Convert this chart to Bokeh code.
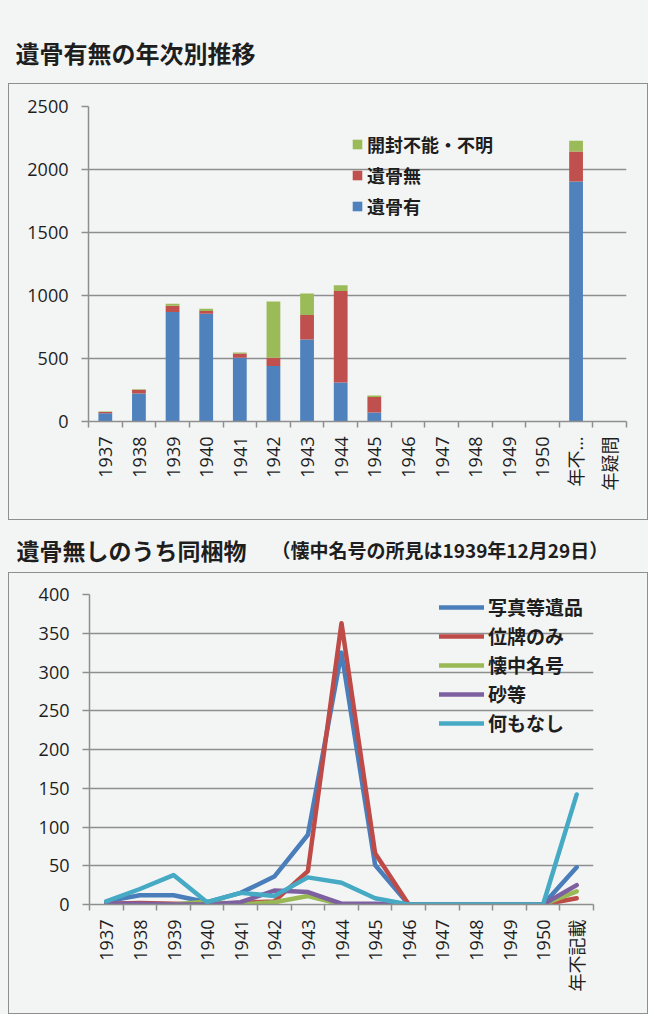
import math
from bokeh.plotting import figure
from bokeh.models import ColumnDataSource, Range1d, FixedTicker, Legend, LegendItem, Spacer
from bokeh.layouts import column, row
from bokeh.embed import file_html
from bokeh.resources import INLINE
from bokeh.core.properties import value

# ---------------- data ----------------
title1 = "遺骨有無の年次別推移"
title2 = "遺骨無しのうち同梱物"
subtitle2 = "（懐中名号の所見は1939年12月29日）"

years1 = ["1937", "1938", "1939", "1940", "1941", "1942", "1943", "1944",
          "1945", "1946", "1947", "1948", "1949", "1950", "年不…", "年疑問"]
bones_yes = [65, 222, 870, 855, 505, 440, 650, 310, 72, 0, 0, 0, 0, 0, 1905, 0]
bones_no = [10, 30, 48, 22, 35, 65, 195, 725, 123, 0, 0, 0, 0, 0, 238, 0]
unopened = [5, 3, 17, 18, 8, 447, 170, 47, 12, 0, 0, 0, 0, 0, 85, 0]
stack_names = ["遺骨有", "遺骨無", "開封不能・不明"]
stack_colors = ["#4F81BD", "#C0504D", "#9BBB59"]
y1_ticks = [0, 500, 1000, 1500, 2000, 2500]

years2 = ["1937", "1938", "1939", "1940", "1941", "1942", "1943", "1944",
          "1945", "1946", "1947", "1948", "1949", "1950", "年不記載"]
photo_items = [4, 12, 12, 3, 15, 36, 90, 325, 51, 0, 0, 0, 0, 0, 48]
ihai_only = [1, 2, 1, 0, 2, 4, 43, 363, 66, 0, 0, 0, 0, 0, 8]
kaichu_myogo = [0, 0, 0, 4, 0, 3, 11, 0, 0, 0, 0, 0, 0, 0, 17]
sand_etc = [1, 1, 0, 0, 3, 18, 16, 1, 1, 0, 0, 0, 0, 0, 25]
nothing = [4, 20, 38, 3, 15, 11, 35, 28, 8, 0, 0, 0, 0, 0, 142]
line_names = ["写真等遺品", "位牌のみ", "懐中名号", "砂等", "何もなし"]
line_colors = ["#4A7EBB", "#BE4B48", "#98B954", "#7D60A0", "#46AAC5"]
y2_ticks = [0, 50, 100, 150, 200, 250, 300, 350, 400]

# ---------------- styles ----------------
PAPER = "#f3f5f5"
GRID = "#8e8e8e"
INK = "#1e1e1e"
LABEL_FONT = "'Open Sans', 'Noto Sans CJK JP'"
CJK_FONT = "Noto Sans CJK JP"
BOX = {"border": "1px solid #8f8f8f"}


def title_fig(h, items):
    t = figure(width=640, height=h, x_range=Range1d(0, 640), y_range=Range1d(0, h),
               x_axis_type=None, y_axis_type=None, toolbar_location=None,
               output_backend="svg", min_border=0, outline_line_color=None,
               background_fill_color=PAPER, border_fill_color=PAPER)
    t.frame_align = False
    for (tx, ty, txt, size) in items:
        t.text(x=[tx], y=[ty], text=[txt], text_font=value(CJK_FONT),
               text_font_size=size, text_font_style="bold", text_color=INK,
               text_baseline="middle", text_align="left")
    return t


def style_axes(p, labels, yticks):
    n = len(labels)
    centers = [i + 0.5 for i in range(n)]
    bounds = [float(i) for i in range(n + 1)]
    xax = p.xaxis[0]
    xax.ticker = FixedTicker(ticks=centers, minor_ticks=bounds)
    xax.major_label_overrides = {c: lab for c, lab in zip(centers, labels)}
    xax.major_label_orientation = math.pi / 2
    xax.major_tick_out = 0
    xax.major_tick_in = 0
    xax.minor_tick_out = 6
    xax.minor_tick_in = 0
    xax.minor_tick_line_color = GRID
    xax.minor_tick_line_width = 1.5
    xax.axis_line_color = GRID
    xax.axis_line_width = 1.5
    xax.major_label_standoff = 9
    xax.major_label_text_font = LABEL_FONT
    xax.major_label_text_font_size = "18px"
    xax.major_label_text_color = INK

    yax = p.yaxis[0]
    yax.ticker = FixedTicker(ticks=yticks)
    yax.major_tick_out = 7
    yax.major_tick_in = 0
    yax.minor_tick_out = 0
    yax.minor_tick_in = 0
    yax.major_tick_line_color = GRID
    yax.major_tick_line_width = 1.5
    yax.axis_line_color = GRID
    yax.axis_line_width = 1.5
    yax.major_label_standoff = 13
    yax.major_label_text_font = LABEL_FONT
    yax.major_label_text_font_size = "18px"
    yax.major_label_text_color = INK

    p.xgrid.visible = False
    p.ygrid.grid_line_color = GRID
    p.ygrid.grid_line_width = 1.5
    return centers


# ---------------- chart 1 ----------------
p1 = figure(width=640, height=437, x_range=Range1d(0, len(years1)), y_range=Range1d(0, 2500),
            output_backend="svg", toolbar_location=None,
            min_border_left=79, min_border_right=23, min_border_top=22, min_border_bottom=100,
            background_fill_color=PAPER, border_fill_color=PAPER, outline_line_color=None)
p1.frame_align = False
p1.styles = BOX
x1 = style_axes(p1, years1, y1_ticks)
src1 = ColumnDataSource(dict(x=x1, yes=bones_yes, no=bones_no, unk=unopened))
bars = p1.vbar_stack(["yes", "no", "unk"], x="x", width=0.41, color=stack_colors,
                     line_color=None, source=src1)
leg1 = Legend(items=[LegendItem(label=stack_names[2], renderers=[bars[2]]),
                     LegendItem(label=stack_names[1], renderers=[bars[1]]),
                     LegendItem(label=stack_names[0], renderers=[bars[0]])],
              location=(263, 202), orientation="vertical",
              glyph_width=12, glyph_height=12, label_standoff=4, spacing=5,
              label_height=20, padding=0, margin=0,
              label_text_font=CJK_FONT, label_text_font_size="18px",
              label_text_font_style="bold", label_text_color=INK,
              border_line_color=None, background_fill_alpha=0)
p1.add_layout(leg1)

# ---------------- chart 2 ----------------
p2 = figure(width=640, height=442, x_range=Range1d(0, len(years2)), y_range=Range1d(0, 400),
            output_backend="svg", toolbar_location=None,
            min_border_left=80, min_border_right=56, min_border_top=21, min_border_bottom=111,
            background_fill_color=PAPER, border_fill_color=PAPER, outline_line_color=None)
p2.frame_align = False
p2.styles = BOX
x2 = style_axes(p2, years2, y2_ticks)
series2 = [photo_items, ihai_only, kaichu_myogo, sand_etc, nothing]
items2 = []
for name, vals, col in zip(line_names, series2, line_colors):
    r = p2.line(x2, vals, line_width=4.5, color=col, line_join="round", line_cap="round")
    items2.append(LegendItem(label=name, renderers=[r]))
leg2 = Legend(items=items2, location=(350, 168), orientation="vertical",
              glyph_width=45, glyph_height=20, label_standoff=4, spacing=2,
              label_height=20, padding=0, margin=0,
              label_text_font=CJK_FONT, label_text_font_size="19px",
              label_text_font_style="bold", label_text_color=INK,
              border_line_color=None, background_fill_alpha=0)
p2.add_layout(leg2)

# ---------------- titles ----------------
t1 = title_fig(83, [(7, 31, title1, "24px")])
t2 = title_fig(52, [(8, 23, title2, "23px"), (263, 23, subtitle2, "19px")])

stack = column(t1, p1, t2, p2, spacing=0)
layout = row(Spacer(width=8, height=1014), stack, spacing=0,
             styles={"background-color": PAPER})

html = file_html(layout, INLINE)
html = html.replace("<body>", '<body style="background-color:%s;">' % PAPER, 1)
open("out.html", "w").write(html)
